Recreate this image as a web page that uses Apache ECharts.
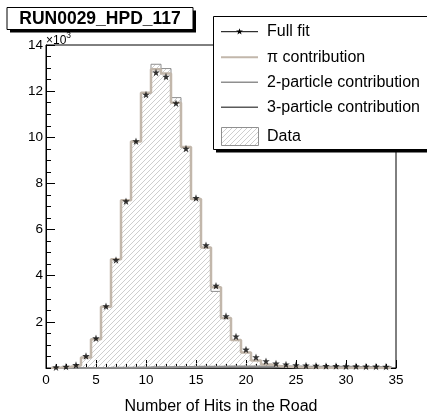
<!DOCTYPE html>
<html>
<head>
<meta charset="utf-8">
<script src="https://cdn.jsdelivr.net/npm/echarts@6/dist/echarts.min.js"></script>
<style>html,body{margin:0;padding:0;background:#fff;}#c{width:427px;height:420px;}</style>
</head>
<body>
<div id="c"></div>
<script>
// ---- data ----
const bins = [1,2,3,4,5,6,7,8,9,10,11,12,13,14,15,16,17,18,19,20,21,22,23,24,25,26,27,28,29,30,31,32,33,34];
const dataCounts = [20,50,110,460,1250,2660,4710,7270,9820,11930,13165,12980,11720,9580,7330,5220,3320,2170,1210,675,325,160,90,60,50,45,40,38,35,33,30,28,26,25];
const piCounts   = [20,50,110,460,1250,2660,4710,7270,9820,11930,12950,12770,11500,9580,7330,5220,3500,2170,1210,675,325,150,80,50,30,20,12,8,5,3,2,1,0,0];
const twoCounts  = [0,0,0,2,5,8,12,16,20,25,30,35,40,45,50,54,58,60,62,64,65,65,64,62,60,58,56,54,52,50,48,46,44,42];
const threeCounts= [0,0,0,0,1,2,3,4,5,6,8,10,12,14,16,18,20,22,24,25,26,27,28,28,28,28,27,27,26,26,25,24,23,22];
const fitCounts  = [30,60,130,520,1290,2680,4680,7230,9830,11850,12810,12630,11480,9510,7370,5320,3570,2250,1370,800,470,295,195,155,125,110,100,92,86,80,75,70,65,60];
const xTicks = {min:0, max:35, interval:5};
const yTicks = {min:0, max:14000, interval:2000};
const xTitle = 'Number of Hits in the Road';
const titleText = 'RUN0029_HPD_117';
const legendNames = ['Full fit','π contribution','2-particle contribution','3-particle contribution','Data'];

function stepPts(vals){
  const p = [[bins[0]-0.5, 0]];
  bins.forEach((c,i)=>{ p.push([c-0.5, vals[i]]); p.push([c+0.5, vals[i]]); });
  p.push([bins[bins.length-1]+0.5, 0]);
  return p;
}
function hatchCanvas(){
  const n = 5, c = document.createElement('canvas'); c.width=n; c.height=n;
  const g = c.getContext('2d'); g.strokeStyle='#bdbdbd'; g.lineWidth=0.75;
  g.beginPath();
  g.moveTo(0,n); g.lineTo(n,0);
  g.moveTo(-1,1); g.lineTo(1,-1);
  g.moveTo(n-1,n+1); g.lineTo(n+1,n-1);
  g.stroke();
  return c;
}
const hatch = {image: hatchCanvas(), repeat: 'repeat'};
const STAR = 'path://M0,-10L2.35,-3.24L9.51,-3.09L3.8,1.24L5.88,8.09L0,4L-5.88,8.09L-3.8,1.24L-9.51,-3.09L-2.35,-3.24Z';
const TAN = '#c2b7ab', GRAY = '#8f8f8f', DARK = '#5a5a5a';
const FONT = 'Liberation Sans, Arial, Helvetica, sans-serif';

function starPoly(cx, cy, R){
  const pts=[]; const r=R*0.4;
  for(let k=0;k<10;k++){ const a=-Math.PI/2+k*Math.PI/5; const rr=k%2?r:R; pts.push([cx+rr*Math.cos(a), cy+rr*Math.sin(a)]); }
  return pts;
}

const chart = echarts.init(document.getElementById('c'), null, {renderer:'canvas'});
const lx = 213, ly = 16, lw = 240, lh = 133;
const rows = [31.7, 57.3, 82.3, 107.3, 136.7];
chart.setOption({
  animation:false,
  backgroundColor:'#fff',
  grid:{left:46, right:31, top:45, bottom:43, show:true, borderColor:'#000', borderWidth:1, backgroundColor:'#fff'},
  xAxis:{type:'value', min:xTicks.min, max:xTicks.max, interval:xTicks.interval,
    axisLine:{show:true, lineStyle:{color:'#000', width:1}},
    axisTick:{show:true, inside:true, length:8, lineStyle:{color:'#000'}},
    minorTick:{show:true, splitNumber:5, length:4, lineStyle:{color:'#000'}},
    splitLine:{show:false},
    axisLabel:{margin:5, color:'#000', fontSize:13.5, fontFamily:FONT},
    name:xTitle, nameLocation:'middle', nameGap:31, nameTextStyle:{color:'#000', fontSize:16, fontFamily:FONT}},
  yAxis:{type:'value', min:yTicks.min, max:yTicks.max, interval:yTicks.interval,
    axisLine:{show:true, lineStyle:{color:'#000', width:1}},
    axisTick:{show:true, inside:true, length:9, lineStyle:{color:'#000'}},
    minorTick:{show:true, splitNumber:4, length:5, lineStyle:{color:'#000'}},
    splitLine:{show:false},
    axisLabel:{margin:3, color:'#000', fontSize:13.5, fontFamily:FONT, formatter:v=> v===0?'':String(v/1000)}},
  series:[
    {name:'Data', type:'line', data:stepPts(dataCounts), symbol:'none', z:2,
      lineStyle:{color:GRAY, width:1}, areaStyle:{color:hatch, opacity:1}},
    {name:'3-particle contribution', type:'line', data:stepPts(threeCounts), symbol:'none', z:3, lineStyle:{color:DARK, width:2}},
    {name:'2-particle contribution', type:'line', data:stepPts(twoCounts), symbol:'none', z:3, lineStyle:{color:GRAY, width:2}},
    {name:'π contribution', type:'line', data:stepPts(piCounts), symbol:'none', z:4, lineStyle:{color:TAN, width:2.5}},
    {name:'Full fit', type:'scatter', data:bins.map((c,i)=>[c, fitCounts[i]]), symbol:STAR, symbolSize:7.5, z:5,
      itemStyle:{color:'#000'}}
  ],
  graphic:[
    {type:'text', left:46, top:31, z:10, style:{text:'{a|×10}{b|3}', rich:{a:{fontSize:12, fontFamily:FONT, fill:'#000', verticalAlign:'bottom', padding:[4,0,0,0]}, b:{fontSize:8.5, fontFamily:FONT, fill:'#000', verticalAlign:'top'}}}},
    {type:'rect', z:20, shape:{x:10, y:10.5, width:186, height:22}, style:{fill:'#000'}},
    {type:'rect', z:21, shape:{x:7, y:7.5, width:186, height:22}, style:{fill:'#fff', stroke:'#000', lineWidth:1}},
    {type:'text', z:22, x:100, y:18.8, style:{text:titleText, fontSize:17.5, fontWeight:'bold', fontFamily:FONT, fill:'#000', align:'center', verticalAlign:'middle'}},
    {type:'rect', z:20, shape:{x:lx+3, y:ly+3, width:lw, height:lh+0.5}, style:{fill:'#000'}},
    {type:'rect', z:21, shape:{x:lx+0.5, y:ly+0.5, width:lw, height:lh}, style:{fill:'#fff', stroke:'#000', lineWidth:1}},
    {type:'line', z:22, shape:{x1:221, y1:rows[0], x2:258, y2:rows[0]}, style:{stroke:'#000', lineWidth:1}},
    {type:'polygon', z:23, shape:{points:starPoly(239.5, rows[0], 3.5)}, style:{fill:'#000'}},
    {type:'line', z:22, shape:{x1:221, y1:rows[1], x2:258, y2:rows[1]}, style:{stroke:TAN, lineWidth:2}},
    {type:'line', z:22, shape:{x1:221, y1:rows[2], x2:258, y2:rows[2]}, style:{stroke:GRAY, lineWidth:1.5}},
    {type:'line', z:22, shape:{x1:221, y1:rows[3], x2:258, y2:rows[3]}, style:{stroke:DARK, lineWidth:1.5}},
    {type:'rect', z:22, shape:{x:221.5, y:127.5, width:37, height:18}, style:{fill:hatch, stroke:GRAY, lineWidth:1}},
    ...legendNames.map((t,i)=>({type:'text', z:22, x:267, y:rows[i], style:{text:t, fontSize:16, fontFamily:FONT, fill:'#000', verticalAlign:'middle'}}))
  ]
});
</script>
</body>
</html>
